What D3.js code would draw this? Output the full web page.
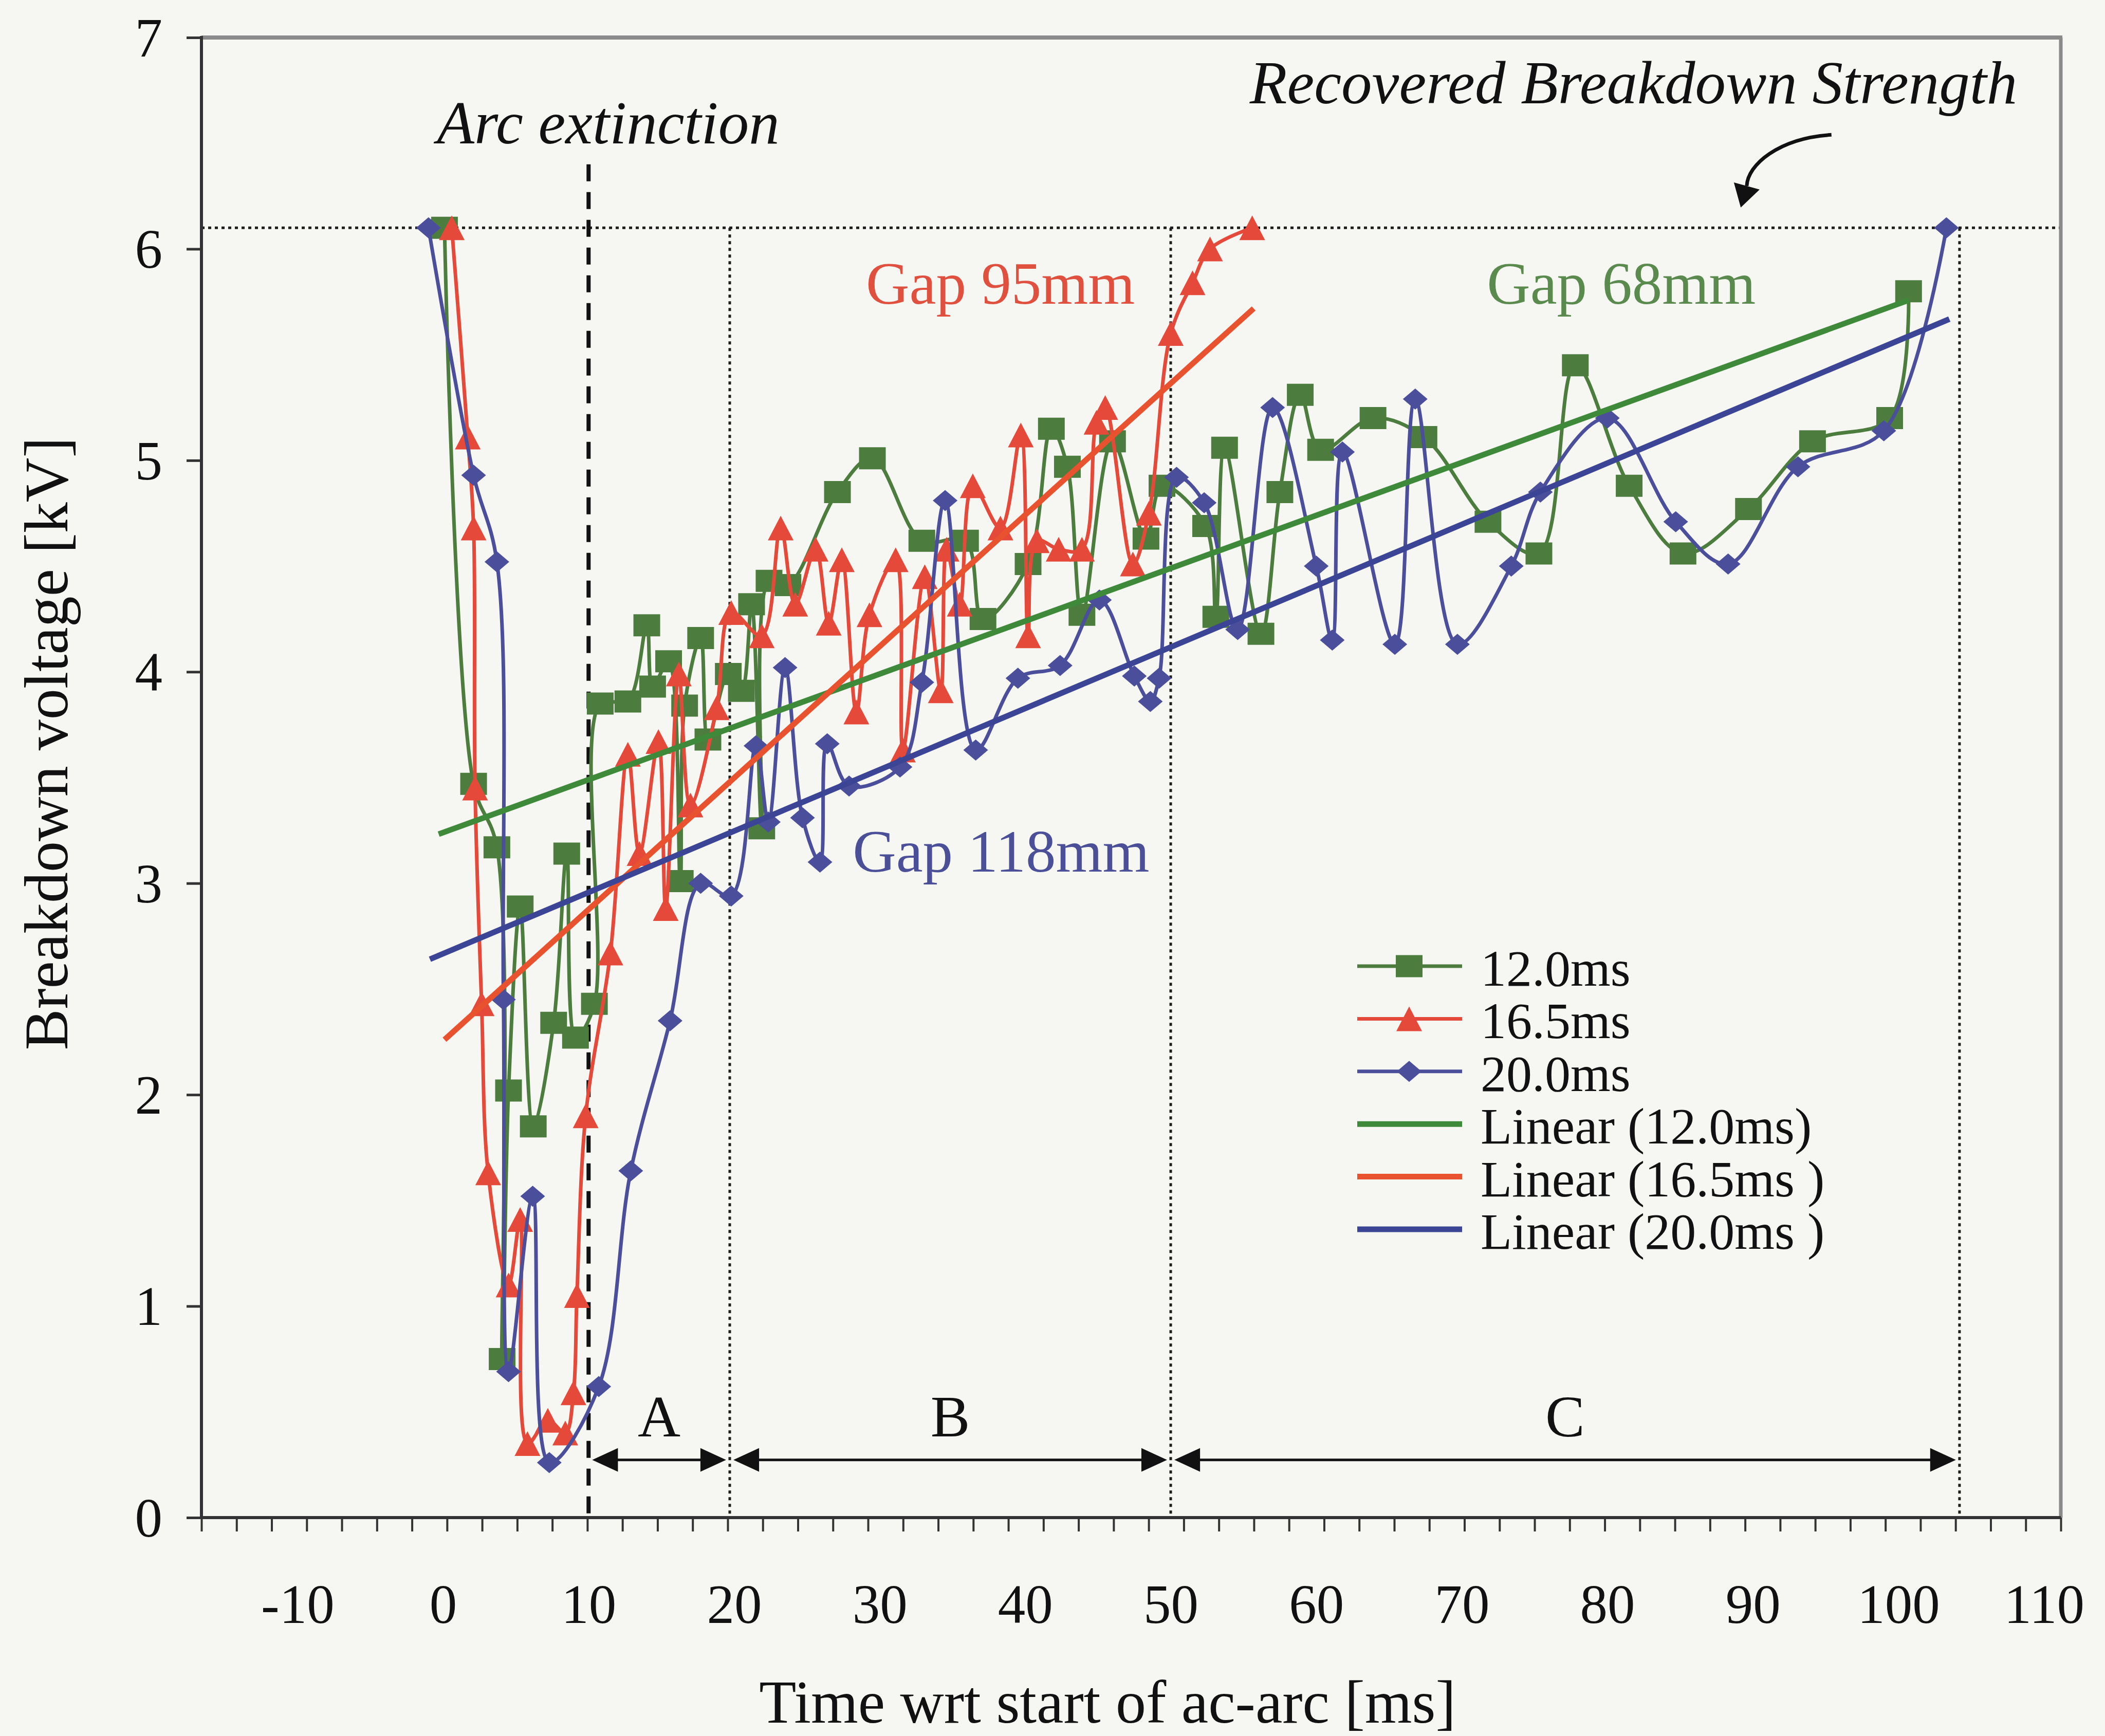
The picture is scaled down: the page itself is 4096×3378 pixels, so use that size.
<!DOCTYPE html>
<html>
<head>
<meta charset="utf-8">
<script src="https://cdn.jsdelivr.net/npm/d3@7"></script>
<style>
  html, body { margin: 0; padding: 0; background: #f6f6f2; }
  svg { display: block; }
</style>
</head>
<body>
<svg id="chart" width="4096" height="3378"></svg>
<script>
// Recovery of breakdown voltage after an ac arc, for three arc durations.

// ---- data ----------------------------------------------------------------
const seriesNames = ["12.0ms", "16.5ms", "20.0ms"];
const trendNames = ["Linear (12.0ms)", "Linear (16.5ms )", "Linear (20.0ms )"];

// 12.0 ms arc (gap 68 mm)
const time12 = [0.1, 2.1, 3.7, 4.06, 4.5, 5.3, 6.2, 7.6, 8.5, 9.1, 10.4, 10.8, 12.7, 14.0, 14.4,
  15.5, 16.3, 16.6, 17.7, 18.2, 19.6, 20.5, 21.2, 21.9, 22.4, 23.7, 27.1, 29.5, 32.9, 35.9,
  37.1, 40.2, 41.8, 42.9, 43.9, 46.0, 48.3, 49.4, 52.4, 53.1, 53.7, 56.2, 57.5, 58.9, 60.3,
  63.9, 67.4, 71.8, 75.3, 77.8, 81.5, 85.2, 89.7, 94.1, 99.4, 100.7];
const volt12 = [6.1, 3.47, 3.17, 0.75, 2.02, 2.89, 1.85, 2.34, 3.14, 2.27, 2.43, 3.85, 3.86, 4.22, 3.93,
  4.05, 3.01, 3.84, 4.16, 3.68, 3.99, 3.91, 4.32, 3.26, 4.43, 4.41, 4.85, 5.01, 4.62, 4.62,
  4.25, 4.51, 5.15, 4.97, 4.27, 5.09, 4.63, 4.88, 4.69, 4.26, 5.06, 4.18, 4.85, 5.31, 5.05,
  5.2, 5.11, 4.71, 4.56, 5.45, 4.88, 4.56, 4.77, 5.09, 5.2, 5.8];

// 16.5 ms arc (gap 95 mm)
const time165 = [0.6, 1.7, 2.1, 2.2, 2.65, 3.1, 4.5, 5.3, 5.8, 7.2, 8.4, 8.96, 9.2, 9.8, 11.5,
  12.7, 13.5, 14.8, 15.3, 16.2, 17.0, 18.8, 19.8, 21.9, 23.2, 24.2, 25.6, 26.5, 27.4, 28.4,
  29.3, 31.1, 31.6, 33.1, 34.2, 34.6, 35.5, 36.4, 38.3, 39.7, 40.2, 40.8, 42.3, 43.9, 44.9,
  45.5, 47.4, 48.5, 50.0, 51.5, 52.7, 55.6];
const volt165 = [6.1, 5.11, 4.68, 3.45, 2.43, 1.63, 1.1, 1.41, 0.35, 0.46, 0.40, 0.59, 1.05, 1.9, 2.67,
  3.61, 3.14, 3.67, 2.88, 3.99, 3.37, 3.83, 4.28, 4.17, 4.68, 4.32, 4.58, 4.23, 4.53, 3.81,
  4.27, 4.53, 3.63, 4.45, 3.91, 4.58, 4.32, 4.88, 4.68, 5.12, 4.17, 4.62, 4.58, 4.58, 5.18,
  5.25, 4.51, 4.75, 5.6, 5.84, 6.0, 6.1];

// 20.0 ms arc (gap 118 mm)
const time20 = [-1.0, 2.1, 3.7, 4.15, 4.5, 6.16, 7.3, 10.7, 12.9, 15.6, 17.7, 19.8, 21.5, 22.35, 23.5,
  24.7, 25.9, 26.4, 27.9, 31.4, 32.9, 34.5, 36.6, 39.5, 42.4, 45.1, 47.5, 48.6, 49.2, 50.4,
  52.3, 54.6, 57.0, 60.0, 61.1, 61.8, 65.4, 66.8, 69.7, 73.4, 75.4, 80.0, 84.7, 88.3, 93.1,
  99.0, 103.3];
const volt20 = [6.1, 4.93, 4.52, 2.45, 0.69, 1.52, 0.26, 0.62, 1.64, 2.35, 3.0, 2.94, 3.65, 3.29, 4.02,
  3.31, 3.1, 3.66, 3.46, 3.55, 3.95, 4.81, 3.63, 3.97, 4.03, 4.34, 3.98, 3.86, 3.97, 4.92,
  4.8, 4.2, 5.25, 4.5, 4.15, 5.04, 4.13, 5.29, 4.13, 4.5, 4.85, 5.2, 4.71, 4.51, 4.97,
  5.14, 6.1];

// linear trend lines: v = intercept + slope * t, drawn over [from, to]
const trendIntercept = [3.24, 2.254, 2.667];
const trendSlope = [0.0250, 0.0622, 0.0290];
const trendFrom = [-0.3, 0.1, -0.9];
const trendTo = [100.7, 55.7, 103.5];

const xTickLabels = [-10, 0, 10, 20, 30, 40, 50, 60, 70, 80, 90, 100, 110];
const yTickLabels = [0, 1, 2, 3, 4, 5, 6, 7];
const minorTickCount = 54;

const recoveredLevel = 6.1;     // kV
const arcExtinction = 10;       // ms
const phaseLabels = ["A", "B", "C"];
const phaseFrom = [10, 19.7, 50];
const phaseTo = [19.7, 50, 104.2];

const gapLabels = ["Gap 95mm", "Gap 68mm", "Gap 118mm"];

// ---- layout ----------------------------------------------------------------
const W = 4096, H = 3378;
const plot = { left: 392, right: 4010, top: 73, bottom: 2953 };
const FONT = "'Liberation Serif', 'Times New Roman', Times, serif";

const x = d3.scaleLinear().domain([-16.6, 111.16]).range([plot.left, plot.right]);
const y = d3.scaleLinear().domain([0, 7]).range([plot.bottom, plot.top]);

const svg = d3.select("#chart");
svg.append("rect").attr("width", W).attr("height", H).attr("fill", "#f6f6f2");

const series = [
  { name: seriesNames[0], t: time12, v: volt12, color: "#4d7c3f", trendColor: "#3f8a3a", shape: "square", w: 52, h: 43 },
  { name: seriesNames[1], t: time165, v: volt165, color: "#e5493a", trendColor: "#e8522f", shape: "triangle", w: 50, h: 48 },
  { name: seriesNames[2], t: time20, v: volt20, color: "#4b4e9a", trendColor: "#3c4495", shape: "diamond", w: 48, h: 41 }
];
series.forEach((s, i) => {
  s.points = s.t.map((t, k) => [t, s.v[k]]);
  s.trend = [trendFrom[i], trendTo[i]].map(t => [t, trendIntercept[i] + trendSlope[i] * t]);
  s.trendName = trendNames[i];
});

function markerPath(shape, w, h) {
  const a = w / 2, b = h / 2;
  if (shape === "square") return `M${-a},${-b}H${a}V${b}H${-a}Z`;
  if (shape === "triangle") return `M0,${-b}L${a},${b}L${-a},${b}Z`;
  return `M0,${-b}L${a},0L0,${b}L${-a},0Z`;
}

// ---- reference lines -------------------------------------------------------
const refs = svg.append("g").attr("class", "reference-lines");
refs.append("line")
  .attr("x1", plot.left).attr("x2", plot.right)
  .attr("y1", y(recoveredLevel)).attr("y2", y(recoveredLevel))
  .attr("stroke", "#1e1e1e").attr("stroke-width", 5).attr("stroke-dasharray", "6 7");

const bounds = [phaseTo[0], phaseTo[1], phaseTo[2]];
refs.selectAll("line.bound").data(bounds).join("line")
  .attr("class", "bound")
  .attr("x1", d => x(d)).attr("x2", d => x(d))
  .attr("y1", y(recoveredLevel)).attr("y2", plot.bottom)
  .attr("stroke", "#1e1e1e").attr("stroke-width", 5).attr("stroke-dasharray", "6 7");

refs.append("line")
  .attr("x1", x(arcExtinction)).attr("x2", x(arcExtinction))
  .attr("y1", y(6.4)).attr("y2", plot.bottom)
  .attr("stroke", "#111").attr("stroke-width", 8).attr("stroke-dasharray", "33 21");

// ---- series ------------------------------------------------------------------
const curve = d3.line()
  .x(d => x(d[0])).y(d => y(d[1]))
  .curve(d3.curveCatmullRom.alpha(0.5));
const straight = d3.line().x(d => x(d[0])).y(d => y(d[1]));

const dataLayer = svg.append("g").attr("class", "series");
series.forEach(s => {
  const g = dataLayer.append("g");
  g.append("path")
    .attr("d", curve(s.points))
    .attr("fill", "none").attr("stroke", s.color)
    .attr("stroke-width", 7).attr("stroke-linejoin", "round");
  g.selectAll("path.marker").data(s.points).join("path")
    .attr("class", "marker")
    .attr("d", markerPath(s.shape, s.w, s.h))
    .attr("transform", d => `translate(${x(d[0])},${y(d[1])})`)
    .attr("fill", s.color);
});

const trendLayer = svg.append("g").attr("class", "trends");
series.forEach(s => {
  trendLayer.append("path")
    .attr("d", straight(s.trend))
    .attr("fill", "none").attr("stroke", s.trendColor)
    .attr("stroke-width", 11);
});

// ---- axes ----------------------------------------------------------------------
const axisColor = "#333";
const plain = d => String(d);

// x axis: labels
svg.append("g")
  .attr("transform", `translate(0,${plot.bottom})`)
  .call(d3.axisBottom(x).tickValues(xTickLabels).tickFormat(plain).tickSize(0).tickSizeOuter(0))
  .call(g => g.select(".domain").remove())
  .call(g => g.selectAll("text")
    .attr("y", 205).attr("dy", null)
    .attr("font-family", FONT).attr("font-size", 107).attr("fill", "#111"));

// x axis: minor ticks
const tickIndex = d3.scaleLinear().domain([0, minorTickCount - 1]).range([plot.left, plot.right]);
svg.append("g")
  .attr("transform", `translate(0,${plot.bottom})`)
  .call(d3.axisBottom(tickIndex).tickValues(d3.range(minorTickCount)).tickFormat("").tickSize(27).tickSizeOuter(0))
  .call(g => g.select(".domain").remove())
  .call(g => g.selectAll("line").attr("stroke", axisColor).attr("stroke-width", 4));

// y axis
svg.append("g")
  .attr("transform", `translate(${plot.left},0)`)
  .call(d3.axisLeft(y).tickValues(yTickLabels).tickFormat(plain).tickSize(29).tickPadding(47).tickSizeOuter(0))
  .call(g => g.select(".domain").remove())
  .call(g => g.selectAll("line").attr("stroke", axisColor).attr("stroke-width", 5))
  .call(g => g.selectAll("text")
    .attr("dy", "0.34em")
    .attr("font-family", FONT).attr("font-size", 107).attr("fill", "#111"));

// frame: dark left/bottom axis lines, grey top/right border
svg.append("line").attr("x1", plot.left).attr("x2", plot.right + 3)
  .attr("y1", plot.top).attr("y2", plot.top)
  .attr("stroke", "#8a8a8a").attr("stroke-width", 8);
svg.append("line").attr("x1", plot.right).attr("x2", plot.right)
  .attr("y1", plot.top).attr("y2", plot.bottom)
  .attr("stroke", "#8a8a8a").attr("stroke-width", 7);
svg.append("line").attr("x1", plot.left).attr("x2", plot.left)
  .attr("y1", plot.top - 3).attr("y2", plot.bottom)
  .attr("stroke", axisColor).attr("stroke-width", 6);
svg.append("line").attr("x1", plot.left).attr("x2", plot.right)
  .attr("y1", plot.bottom).attr("y2", plot.bottom)
  .attr("stroke", axisColor).attr("stroke-width", 6);

// axis titles
svg.append("text")
  .attr("x", 2155).attr("y", 3352)
  .attr("text-anchor", "middle")
  .attr("font-family", FONT).attr("font-size", 118).attr("fill", "#111")
  .text("Time wrt start of ac-arc [ms]");
svg.append("text")
  .attr("transform", `translate(131,1447) rotate(-90)`)
  .attr("text-anchor", "middle")
  .attr("font-family", FONT).attr("font-size", 120).attr("fill", "#111")
  .text("Breakdown voltage [kV]");

// ---- annotations -------------------------------------------------------------
const notes = svg.append("g").attr("class", "annotations")
  .attr("font-family", FONT);

notes.append("text")
  .attr("x", x(11.35)).attr("y", y(6.5))
  .attr("text-anchor", "middle").attr("font-style", "italic")
  .attr("font-size", 119).attr("fill", "#111")
  .text("Arc extinction");

notes.append("text")
  .attr("x", x(81.8)).attr("y", y(6.69))
  .attr("text-anchor", "middle").attr("font-style", "italic")
  .attr("font-size", 119).attr("fill", "#111")
  .text("Recovered Breakdown Strength");

// curved pointer towards the recovered-strength level
const tail = [x(95.4), y(6.54)], c1 = [x(91.76), y(6.524)], c2 = [x(89.64), y(6.398)];
const headBase = [x(89.58), y(6.298)], tip = [x(89.17), y(6.196)];
notes.append("path")
  .attr("d", `M${tail}C${c1} ${c2} ${headBase}`)
  .attr("fill", "none").attr("stroke", "#111").attr("stroke-width", 7);
{
  const dx = tip[0] - headBase[0], dy = tip[1] - headBase[1];
  const len = Math.hypot(dx, dy), ux = dx / len, uy = dy / len;
  const half = 26;
  notes.append("path")
    .attr("d", `M${tip}L${headBase[0] - uy * half},${headBase[1] + ux * half}L${headBase[0] + uy * half},${headBase[1] - ux * half}Z`)
    .attr("fill", "#111");
}

// gap labels
const gapPos = [[38.3, 5.74], [80.96, 5.74], [38.34, 3.055]];
const gapColors = ["#e0503e", "#5a8a4e", "#4a4f98"];
notes.selectAll("text.gap").data(gapLabels).join("text")
  .attr("class", "gap")
  .attr("x", (d, i) => x(gapPos[i][0])).attr("y", (d, i) => y(gapPos[i][1]))
  .attr("text-anchor", "middle").attr("font-size", 117)
  .attr("fill", (d, i) => gapColors[i])
  .text(d => d);

// phase arrows A, B, C
const arrowY = y(0.273);
const headLen = 50, headHalf = 23, tipGap = 0.25;
phaseLabels.forEach((lab, i) => {
  const xa = x(phaseFrom[i] + tipGap), xb = x(phaseTo[i] - tipGap);
  notes.append("line")
    .attr("x1", xa + headLen - 2).attr("x2", xb - headLen + 2)
    .attr("y1", arrowY).attr("y2", arrowY)
    .attr("stroke", "#111").attr("stroke-width", 5);
  notes.append("path")
    .attr("d", `M${xa},${arrowY}L${xa + headLen},${arrowY - headHalf}L${xa + headLen},${arrowY + headHalf}Z`)
    .attr("fill", "#111");
  notes.append("path")
    .attr("d", `M${xb},${arrowY}L${xb - headLen},${arrowY - headHalf}L${xb - headLen},${arrowY + headHalf}Z`)
    .attr("fill", "#111");
  notes.append("text")
    .attr("x", x((phaseFrom[i] + phaseTo[i]) / 2)).attr("y", y(0.384))
    .attr("text-anchor", "middle").attr("font-size", 115).attr("fill", "#111")
    .text(lab);
});

// ---- legend ------------------------------------------------------------------
const legend = svg.append("g").attr("class", "legend").attr("font-family", FONT);
const lgX0 = 2641, lgX1 = 2845, lgMark = 2742, lgText = 2881, lgY0 = 1880, lgStep = 102.4;
const legendRows = [
  ...series.map(s => ({ label: s.name, color: s.color, width: 7, s })),
  ...series.map(s => ({ label: s.trendName, color: s.trendColor, width: 11, s: null }))
];
legendRows.forEach((r, i) => {
  const ly = lgY0 + i * lgStep;
  legend.append("line")
    .attr("x1", lgX0).attr("x2", lgX1).attr("y1", ly).attr("y2", ly)
    .attr("stroke", r.color).attr("stroke-width", r.width);
  if (r.s) {
    legend.append("path")
      .attr("d", markerPath(r.s.shape, r.s.w, r.s.h))
      .attr("transform", `translate(${lgMark},${ly})`)
      .attr("fill", r.color);
  }
  legend.append("text")
    .attr("x", lgText).attr("y", ly + 38)
    .attr("font-size", 100).attr("fill", "#111")
    .style("white-space", "pre")
    .text(r.label);
});
</script>
</body>
</html>
